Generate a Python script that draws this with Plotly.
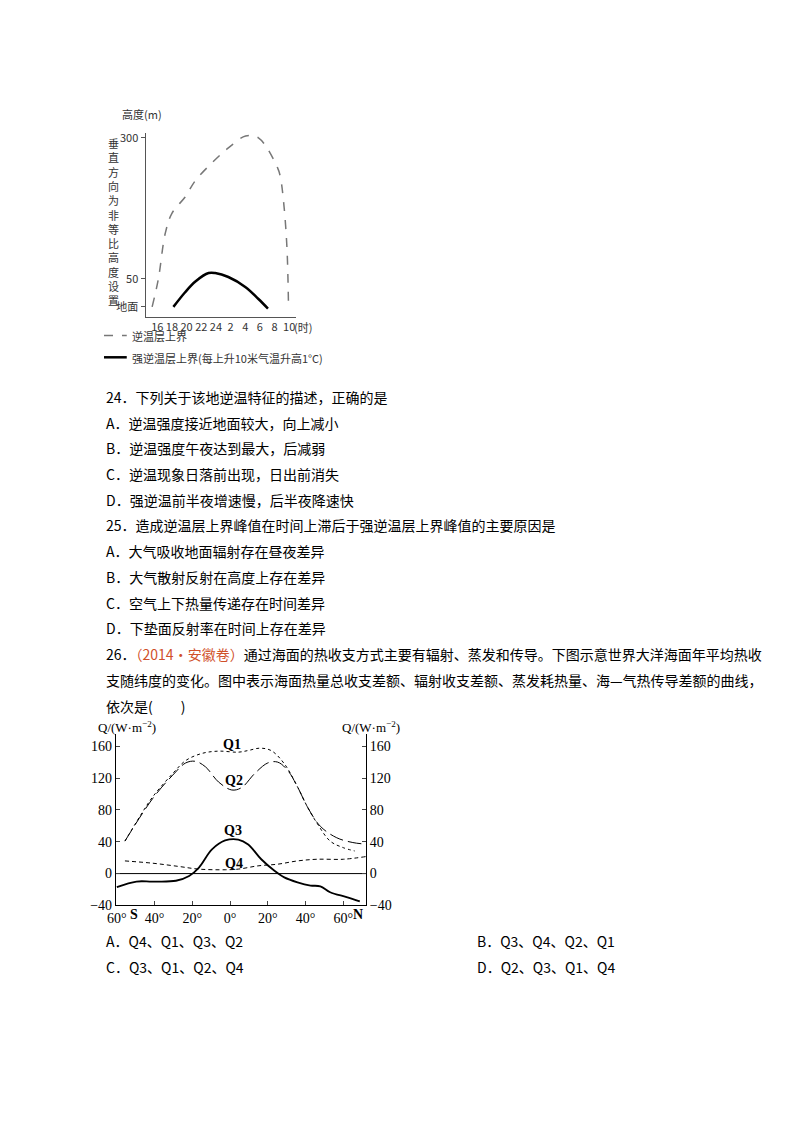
import plotly.graph_objects as go

W, H = 800, 1132

# ---- top chart: inversion layer heights (x = hours after 16:00) ----
inv_hour = [-0.7, 0.14, 1.1, 2.0, 3.8, 5.2, 7.5, 9.7, 12.05, 13.8, 16.4, 16.8, 17.3, 17.7, 17.9]
inv_top = [0, 49, 131, 166, 195, 224, 256, 282, 303, 300, 247, 230, 177, 102, 2]
strong_hour = [2.2, 3.8, 5.2, 7.0, 7.9, 9.7, 12.05, 13.8, 15.1]
strong_top = [0, 26, 45, 60, 60, 53, 35, 14, -3]
hour_ticks = [0, 2, 4, 6, 8, 10, 12, 14, 16, 18]
hour_labels = ["16", "18", "20", "22", "24", "2", "4", "6", "8", "10"]

# ---- bottom chart: ocean heat budget by latitude ----
q1_lat = [-55.7, -47.8, -40.9, -30.4, -23.5, -14.8, -6.1, 4.3, 9.6, 15.7, 21.7, 28.7, 35.7, 40.9, 46, 53, 60, 66]
q1_val = [40.8, 71.8, 96.7, 125.6, 142, 151, 153.8, 152.5, 154.6, 157.5, 154.6, 138, 109, 84, 63.5, 40.8, 32.5, 28.4]
q2_lat = [-55.7, -40.9, -30.4, -23.5, -18.3, -13, -6.1, 0.9, 6.1, 13, 20, 25.2, 30.4, 35.7, 40.9, 47.8, 56.5, 65, 71.8]
q2_val = [40.8, 94.6, 123.6, 139, 141, 134, 115, 105, 108, 125.6, 139, 140, 130, 109, 84, 59.4, 45, 39, 37]
q3_lat = [-60, -49.6, -40.9, -28.7, -21.7, -16.5, -9.6, -2.6, 4.3, 9.6, 16.5, 23.5, 28.7, 35.7, 42.6, 47.8, 53, 61.7, 68.7]
q3_val = [-17, -10, -10, -9, -3, 7.6, 30.4, 41.6, 42.8, 36.6, 18, 3.5, -4.8, -11, -15, -16, -23.4, -29.6, -35]
q4_lat = [-55.7, -40.9, -27, -16.5, -2.6, 4.3, 14.8, 25.2, 35.7, 46, 60, 71.8]
q4_val = [15.9, 13, 8.9, 5.6, 4.8, 5.6, 9.7, 11.8, 15.9, 18, 18, 21.3]
lat_ticks = [-60, -40, -20, 0, 20, 40, 60]
lat_labels = ["60°", "40°", "20°", "0°", "20°", "40°", "60°"]
q_ticks = [-40, 0, 40, 80, 120, 160]


def px_x(x):
    return x / W


def px_y(y):
    return 1 - y / H


CJK = "Noto Sans CJK SC"
SERIF = "Liberation Serif"

fig = go.Figure()
fig.add_trace(go.Scatter(x=inv_hour, y=inv_top, mode="lines", line=dict(color="#777", width=1.5, dash="dash", shape="spline"),
                         xaxis="x", yaxis="y"))
fig.add_trace(go.Scatter(x=strong_hour, y=strong_top, mode="lines", line=dict(color="black", width=2.5, shape="spline"),
                         xaxis="x", yaxis="y"))

fig.add_trace(go.Scatter(x=q1_lat, y=q1_val, mode="lines", line=dict(color="black", width=1, dash="dot", shape="spline"),
                         xaxis="x2", yaxis="y2"))
fig.add_trace(go.Scatter(x=q2_lat, y=q2_val, mode="lines", line=dict(color="black", width=1, dash="14px,5px", shape="spline"),
                         xaxis="x2", yaxis="y2"))
fig.add_trace(go.Scatter(x=q3_lat, y=q3_val, mode="lines", line=dict(color="black", width=1.8, shape="spline"),
                         xaxis="x2", yaxis="y2"))
fig.add_trace(go.Scatter(x=q4_lat, y=q4_val, mode="lines", line=dict(color="black", width=1, dash="4px,3px", shape="spline"),
                         xaxis="x2", yaxis="y2"))
fig.add_trace(go.Scatter(x=[-60.5, 72], y=[0, 0], mode="lines", line=dict(color="black", width=1),
                         xaxis="x2", yaxis="y2"))
fig.add_trace(go.Scatter(x=[0], y=[0], mode="markers", marker=dict(opacity=0), xaxis="x2", yaxis="y3"))

small = dict(family=CJK, size=11, color="#333")
num = dict(family=SERIF, size=14, color="black")
fig.update_layout(
    width=W, height=H, margin=dict(l=0, r=0, t=0, b=0), showlegend=False,
    plot_bgcolor="white", paper_bgcolor="white",
    xaxis=dict(domain=[px_x(130), px_x(282)], anchor="y", range=[-1.6, 18.9], tickvals=hour_ticks, ticktext=hour_labels,
               showline=True, linecolor="#555", ticks="", showgrid=False, zeroline=False, tickfont=small),
    yaxis=dict(domain=[px_y(308), px_y(122)], anchor="x", range=[-17.5, 309], tickvals=[0, 50, 300],
               ticktext=["地面", "50", "300"], showline=True, linecolor="#555", ticks="outside", ticklen=4,
               tickcolor="#555", showgrid=False, zeroline=False, tickfont=small),
    xaxis2=dict(domain=[px_x(100), px_x(353)], anchor="y2", range=[-60.5, 72], tickvals=lat_ticks,
                ticktext=lat_labels, showline=True, linecolor="black", ticks="inside", ticklen=4, showgrid=False,
                zeroline=False, tickfont=num),
    yaxis2=dict(domain=[px_y(903), px_y(730)], anchor="x2", range=[-40, 175], tickvals=q_ticks, showline=True,
                linecolor="black", ticks="inside", ticklen=4, showgrid=False, zeroline=False, tickfont=num),
    yaxis3=dict(overlaying="y2", side="right", anchor="x2", range=[-40, 175], tickvals=q_ticks, showline=True,
                linecolor="black", ticks="inside", ticklen=4, showgrid=False, zeroline=False, tickfont=num),
)

ann = []


def text(x, y, s, size=14, font=CJK, color="black", xanchor="left"):
    ann.append(dict(x=px_x(x), y=px_y(y), xref="paper", yref="paper", text=s, showarrow=False,
                    xanchor=xanchor, yanchor="middle", font=dict(family=font, size=size, color=color)))


# top chart labels
text(104, 103, "高度(m)", 11, color="#333")
text(98, 212, "<br>".join("垂直方向为非等比高度设置"), 11, color="#333", xanchor="center")
text(278, 318, "(时)", 11, color="#333")
text(114, 327, "逆温层上界", 11, color="#333")
text(114, 350, "强逆温层上界(每上升10米气温升高1°C)", 11, color="#333")
fig.add_shape(type="line", xref="paper", yref="paper", x0=px_x(88), x1=px_x(111), y0=px_y(327), y1=px_y(327),
              line=dict(color="#777", width=1.5, dash="dash"))
fig.add_shape(type="line", xref="paper", yref="paper", x0=px_x(88), x1=px_x(111), y0=px_y(349), y1=px_y(349),
              line=dict(color="black", width=2.5))

# question text
lines = [
    (389, "24．下列关于该地逆温特征的描述，正确的是"),
    (415, "A．逆温强度接近地面较大，向上减小"),
    (441, "B．逆温强度午夜达到最大，后减弱"),
    (467, "C．逆温现象日落前出现，日出前消失"),
    (493, "D．强逆温前半夜增速慢，后半夜降速快"),
    (519, "25．造成逆温层上界峰值在时间上滞后于强逆温层上界峰值的主要原因是"),
    (545, "A．大气吸收地面辐射存在昼夜差异"),
    (571, "B．大气散射反射在高度上存在差异"),
    (597, "C．空气上下热量传递存在时间差异"),
    (623, "D．下垫面反射率在时间上存在差异"),
    (649, "26．<span style='color:#d0502a'>（2014·安徽卷）</span>通过海面的热收支方式主要有辐射、蒸发和传导。下图示意世界大洋海面年平均热收"),
    (675, "支随纬度的变化。图中表示海面热量总收支差额、辐射收支差额、蒸发耗热量、海—气热传导差额的曲线，"),
    (701, "依次是(　　)"),
    (939, "A．Q4、Q1、Q3、Q2"),
    (965, "C．Q3、Q1、Q2、Q4"),
]
for y, s in lines:
    text(88, y, s)
text(463, 939, "B．Q3、Q4、Q2、Q1")
text(463, 965, "D．Q2、Q3、Q1、Q4")

# bottom chart labels
text(80, 723, "Q/(W·m<sup>−2</sup>)", 13, SERIF)
text(327, 723, "Q/(W·m<sup>−2</sup>)", 13, SERIF)
for lbl, x, y in [("Q1", 217, 740), ("Q2", 219, 777), ("Q3", 218, 827), ("Q4", 219, 861)]:
    text(x, y, "<b>%s</b>" % lbl, 14, SERIF, xanchor="center")
text(112, 912, "<b>S</b>", 14, SERIF)
text(338, 912, "<b>N</b>", 14, SERIF)

fig.update_layout(annotations=ann)
fig.write_html("out.html")
